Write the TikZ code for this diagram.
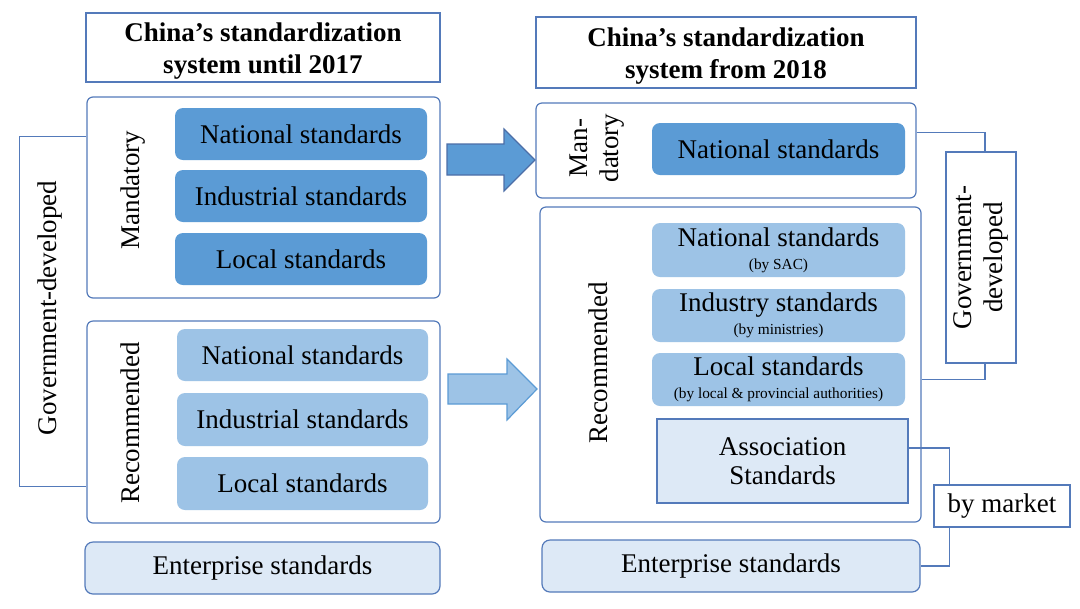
\documentclass[tikz,border=0pt]{standalone}
\usepackage{fontspec}
\setmainfont{Liberation Serif}
\usetikzlibrary{calc}
\definecolor{bord}{RGB}{84,122,186}
\definecolor{darkfill}{RGB}{91,155,213}
\definecolor{midfill}{RGB}{157,195,230}
\definecolor{palefill}{RGB}{221,233,246}
\newcommand{\subline}{\fontsize{11.5}{13}\selectfont}
\begin{document}
\begin{tikzpicture}[x=0.75pt,y=-0.75pt,
  sz/.style 2 args={minimum width=#1*0.75pt, minimum height=#2*0.75pt, inner sep=0pt},
  txt/.style={font=\fontsize{20.25}{23}\selectfont, text=black},
  titlebox/.style={draw=bord, line width=0.9pt, fill=white},
  titletxt/.style={align=center, font=\fontsize{20.25}{24}\selectfont\bfseries, inner sep=0pt},
  container/.style={draw=bord, line width=0.9pt, rounded corners=4.5pt, fill=white},
  darkbox/.style={txt, fill=darkfill, rounded corners=6pt, align=center},
  midbox/.style={txt, fill=midfill, rounded corners=6pt, align=center},
  palebox/.style={txt, draw=bord, line width=0.9pt, fill=palefill, rounded corners=6pt, align=center},
  plainbox/.style={txt, draw=bord, line width=0.9pt, fill=white, align=center},
  vlabel/.style={txt, rotate=90, align=center},
  conn/.style={draw=bord, line width=0.9pt}
]
\useasboundingbox (0,0) rectangle (1080,608);
\fill[white] (0,0) rectangle (1080,608);

% ---------------- titles
\node[titlebox, sz={354}{69}] (titleL) at (263,47.5) {};
\node[titletxt] (titleLtxt) at ($(titleL)+(0,4)$) {China’s standardization\\system until 2017};
\node[titlebox, sz={380}{71}] (titleR) at (726,52.5) {};
\node[titletxt] (titleRtxt) at ($(titleR)+(0,4)$) {China’s standardization\\system from 2018};

% ---------------- left side
\node[container, sz={353}{201}] (mandL) at (263.5,197.5) {};
\node[darkbox, sz={252}{52}] (natL) at (301,134) {National standards};
\node[darkbox, sz={252}{52}] (indL) at (301,196) {Industrial standards};
\node[darkbox, sz={252}{52}] (locL) at (301,259) {Local standards};
\node[vlabel] (mandLlab) at (133,190) {Mandatory};

\node[container, sz={353}{202}] (recL) at (263.5,422) {};
\node[midbox, sz={251}{52}] (natL2) at (302.5,355) {National standards};
\node[midbox, sz={251}{53}] (indL2) at (302.5,419.5) {Industrial standards};
\node[midbox, sz={251}{53}] (locL2) at (302.5,483.5) {Local standards};
\node[vlabel] (recLlab) at (130,423) {Recommended};

\node[palebox, sz={355}{52}] (entL) at (262.5,568) {Enterprise standards};

\coordinate (govLtop) at ($(mandL.north west)+(0,40)$);
\coordinate (govLbot) at ($(recL.north west)+(0,166)$);
\draw[conn] (govLtop) -- ++(-67,0) |- (govLbot);
\node[vlabel] (govLlab) at (50,308) {Government-developed};

% ---------------- arrows
\draw[conn, fill=darkfill, draw=bord!90!black] (447,144) -- (504,144) -- (504,129) -- (535,160)
   -- (504,191) -- (504,175) -- (447,175) -- cycle;
\draw[conn, fill=midfill, draw=darkfill] (448,374) -- (507,374) -- (507,359) -- (537,389)
   -- (507,420) -- (507,404) -- (448,404) -- cycle;

% ---------------- right side
\node[container, sz={380}{95}] (mandR) at (726,150.5) {};
\node[darkbox, sz={253}{52}] (natR) at (778.5,149) {National standards};
\node[vlabel] (mandRlab) at (597,148) {Man-\\datory};

\node[container, sz={381}{315}] (recR) at (730.5,364.5) {};
\node[midbox, sz={253}{54}] (natR2) at (778.5,250) {National standards\\[-6pt]{\subline(by SAC)}};
\node[midbox, sz={253}{53}] (indR2) at (778.5,315.5) {Industry standards\\[-6pt]{\subline(by ministries)}};
\node[midbox, sz={253}{53}] (locR2) at (778.5,379.5) {Local standards\\[-6pt]{\subline(by local \& provincial authorities)}};
\node[txt, draw=bord, line width=0.9pt, fill=palefill, align=center, sz={251}{84},
  font=\fontsize{20.25}{22}\selectfont] (assocR) at (782.5,461) {Association\\Standards};
\node[vlabel] (recRlab) at (598,363) {Recommended};

\node[palebox, sz={378}{52}] (entR) at (731,566) {Enterprise standards};

\node[plainbox, sz={70}{211}] (govR) at (981,257.5) {};
\node[vlabel, font=\fontsize{20.25}{23}\selectfont] (govRlab) at (981,257.5) {Government-\\developed};

\node[plainbox, sz={136}{42}] (bym) at (1002,506) {by market};

% connectors right
\draw[conn] ($(mandR.north east)+(0,30)$) -| ($(govR.north)+(4,0)$);
\draw[conn] (recR.east |- locR2) -| ($(govR.south)+(4,0)$);
\draw[conn] ($(assocR.east)+(0,-13)$) -| ($(bym.north west)+(16,0)$);
\draw[conn] ($(bym.south west)+(16,0)$) |- (entR.east);
\end{tikzpicture}
\end{document}
